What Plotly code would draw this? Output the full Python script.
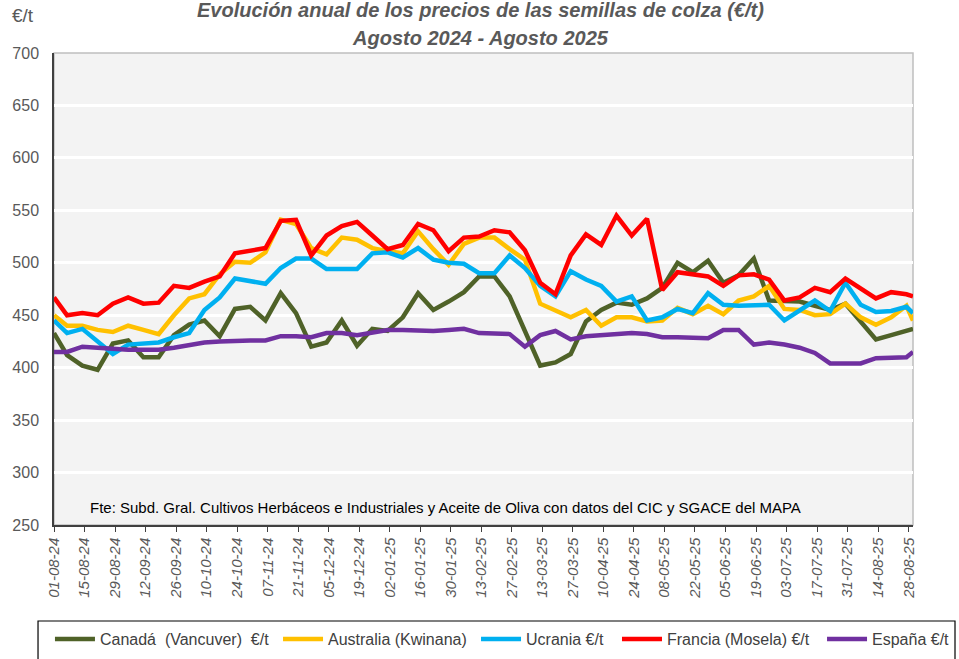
import plotly.graph_objects as go
import pandas as pd

dates = [
    "2024-08-01",
    "2024-08-07", "2024-08-14", "2024-08-21", "2024-08-28",
    "2024-09-04", "2024-09-11", "2024-09-18", "2024-09-25",
    "2024-10-02", "2024-10-09", "2024-10-16", "2024-10-23", "2024-10-30",
    "2024-11-06", "2024-11-13", "2024-11-20", "2024-11-27",
    "2024-12-04", "2024-12-11", "2024-12-18", "2024-12-25",
    "2025-01-01", "2025-01-08", "2025-01-15", "2025-01-22", "2025-01-29",
    "2025-02-05", "2025-02-12", "2025-02-19", "2025-02-26",
    "2025-03-05", "2025-03-12", "2025-03-19", "2025-03-26",
    "2025-04-02", "2025-04-09", "2025-04-16", "2025-04-23", "2025-04-30",
    "2025-05-07", "2025-05-14", "2025-05-21", "2025-05-28",
    "2025-06-04", "2025-06-11", "2025-06-18", "2025-06-25",
    "2025-07-02", "2025-07-09", "2025-07-16", "2025-07-23", "2025-07-30",
    "2025-08-06", "2025-08-13", "2025-08-20", "2025-08-27",
    "2025-08-30",
]

canada = [433, 412, 402, 398, 423, 426, 410, 410, 431, 441, 445, 430, 456, 458, 445, 471,
          452, 420, 424, 445, 421, 437, 435, 448, 471, 455, 463, 472, 487, 487, 468, 434,
          402, 405, 413, 444, 455, 462, 460, 466, 476, 500, 491, 502, 481, 488, 504, 464,
          463, 463, 459, 455, 461, 444, 427, 431, 435, 437]
australia = [450, 440, 440, 436, 434, 440, 436, 432, 450, 466, 470, 489, 501, 500, 510, 541,
             537, 514, 508, 524, 522, 514, 511, 509, 530, 513, 498, 518, 524, 524, 513, 503,
             461, 455, 448, 455, 440, 448, 448, 444, 445, 457, 451, 459, 451, 464, 468, 478,
             456, 455, 450, 451, 461, 448, 441, 448, 459, 445]
ucrania = [445, 433, 437, 425, 413, 422, 423, 424, 429, 433, 455, 467, 485, 483, 480, 495,
           504, 504, 494, 494, 494, 509, 510, 505, 514, 503, 500, 499, 490, 490, 507, 495,
           478, 468, 492, 484, 478, 463, 468, 445, 448, 456, 452, 471, 460, 459, 459, 460,
           445, 455, 464, 454, 481, 460, 453, 454, 458, 452]
francia = [467, 450, 452, 450, 461, 467, 461, 462, 478, 476, 482, 487, 509, 512, 514, 540,
           541, 507, 526, 535, 539, 526, 513, 517, 537, 531, 511, 524, 525, 531, 529, 512,
           481, 470, 507, 527, 517, 545, 526, 542, 474, 491, 489, 487, 478, 488, 489, 484,
           464, 467, 476, 472, 485, 476, 466, 472, 470, 468]
espana = [415, 415, 420, 419, 417, 417, 417, 417, 419, 422, 424, 425, 426, 426, 426, 430,
          430, 429, 433, 433, 431, 434, 436, 436, 435, 435, 436, 437, 433, 432, 432, 420,
          431, 435, 427, 430, 431, 431, 433, 432, 429, 429, 428, 428, 436, 436, 422, 424,
          422, 419, 414, 404, 404, 404, 409, 409, 410, 415]

series_names = ["Canadá  (Vancuver)  €/t", "Australia (Kwinana)", "Ucrania €/t",
                "Francia (Mosela) €/t", "España €/t"]
series_values = [canada, australia, ucrania, francia, espana]
series_colors = ["#4F6228", "#FFC000", "#00B0F0", "#FF0000", "#7030A0"]

tick_labels = ["01-08-24", "15-08-24", "29-08-24", "12-09-24", "26-09-24", "10-10-24",
               "24-10-24", "07-11-24", "21-11-24", "05-12-24", "19-12-24", "02-01-25",
               "16-01-25", "30-01-25", "13-02-25", "27-02-25", "13-03-25", "27-03-25",
               "10-04-25", "24-04-25", "08-05-25", "22-05-25", "05-06-25", "19-06-25",
               "03-07-25", "17-07-25", "31-07-25", "14-08-25", "28-08-25"]
tick_vals = [pd.to_datetime(t, format="%d-%m-%y").strftime("%Y-%m-%d") for t in tick_labels]

FONT = "Liberation Sans, Arial, sans-serif"
GREY = "#595959"

# one legend box per series so the entries sit where the reference has them
legend_ids = ["legend", "legend2", "legend3", "legend4", "legend5"]
legend_x = [-0.0047, 0.2608, 0.4913, 0.6554, 0.8941]

fig = go.Figure()
for name, vals, col, lid in zip(series_names, series_values, series_colors, legend_ids):
    fig.add_trace(go.Scatter(x=dates, y=vals, name=name, mode="lines", legend=lid,
                             line=dict(color=col, width=4.5)))

legend_layout = {}
for lid, lx in zip(legend_ids, legend_x):
    legend_layout[lid] = dict(orientation="h", x=lx, xanchor="left", y=-0.2415,
                              yanchor="middle", font=dict(size=16, color="#404040",
                                                          family=FONT),
                              bgcolor="rgba(0,0,0,0)", itemwidth=40)

fig.update_layout(
    width=959, height=659,
    margin=dict(l=54, r=46, t=53, b=134, autoexpand=False),
    paper_bgcolor="white",
    plot_bgcolor="#F3F3F3",
    font=dict(family=FONT, color=GREY, size=14),
    showlegend=True,
    xaxis=dict(type="date", range=["2024-08-01", "2025-08-30"],
               tickmode="array", tickvals=tick_vals, ticktext=tick_labels,
               tickangle=-90, ticks="outside", ticklen=5, tickcolor="#404040",
               tickfont=dict(size=15, color=GREY, family=FONT, style="italic"),
               showgrid=False, showline=True, linecolor="#404040", linewidth=1.5,
               zeroline=False),
    yaxis=dict(range=[250, 700], dtick=50, tick0=250, showgrid=True, gridcolor="white",
               gridwidth=2.5, showline=True, linecolor="#404040", linewidth=1.5,
               ticks="", tickfont=dict(size=16, color=GREY, family=FONT), zeroline=False,
               ticklabelstandoff=10),
    annotations=[
        dict(text="<b><i>Evolución anual de los precios de las semillas de colza (€/t)</i></b>",
             xref="paper", yref="paper", x=0.496, y=1.0911, xanchor="center", yanchor="middle",
             showarrow=False, font=dict(size=20, color=GREY, family=FONT)),
        dict(text="<b><i>Agosto 2024 - Agosto 2025</i></b>",
             xref="paper", yref="paper", x=0.496, y=1.0318, xanchor="center", yanchor="middle",
             showarrow=False, font=dict(size=20, color=GREY, family=FONT)),
        dict(text="€/t", xref="paper", yref="paper", x=-0.036, y=1.0805,
             xanchor="center", yanchor="middle", showarrow=False,
             font=dict(size=19, color=GREY, family=FONT)),
        dict(text="Fte: Subd. Gral. Cultivos Herbáceos e Industriales y Aceite de Oliva con datos del CIC y SGACE del MAPA",
             xref="paper", yref="paper", x=0.0396, y=0.038, xanchor="left", yanchor="middle",
             showarrow=False, font=dict(size=15, color="black", family=FONT)),
    ],
    shapes=[
        dict(type="rect", xref="paper", yref="paper", x0=0, x1=1, y0=0, y1=1,
             line=dict(color="#BFBFBF", width=1.5), layer="below"),
        dict(type="rect", xref="paper", yref="paper", x0=-0.0186, x1=1.0489,
             y0=-0.2034, y1=-0.30, line=dict(color="black", width=1.2)),
    ],
    **legend_layout,
)

fig.write_html("out.html", config={"displayModeBar": False},
               post_script="document.body.style.margin='0px';")
